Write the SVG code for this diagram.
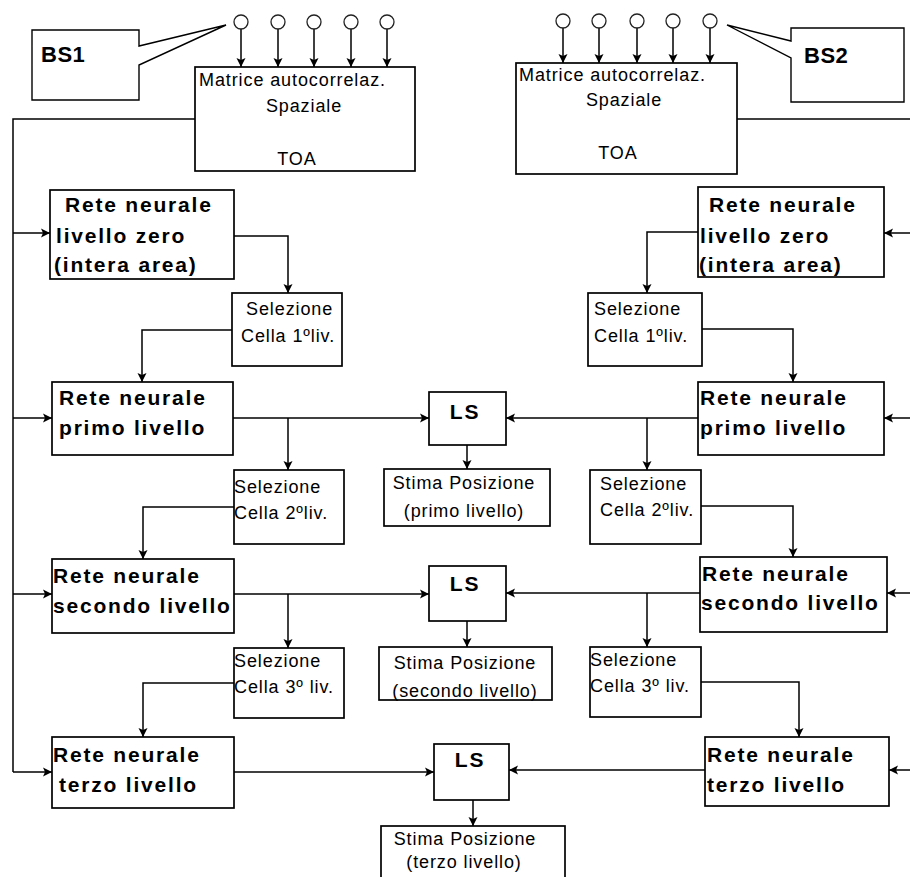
<svg xmlns="http://www.w3.org/2000/svg" width="910" height="877" viewBox="0 0 910 877">
  <style>
    .box { fill: #fff; stroke: #000; stroke-width: 1.7; }
    .wire { fill: none; stroke: #000; stroke-width: 1.5; }
    .ant { fill: #fff; stroke: #222; stroke-width: 1.3; }
    .t { font-family: "Liberation Sans", Arial, sans-serif; font-size: 18px; letter-spacing: 0.9px; fill: #000; }
    .b { font-family: "Liberation Sans", Arial, sans-serif; font-size: 21px; font-weight: bold; letter-spacing: 1.8px; fill: #000; }
    .bs { font-family: "Liberation Sans", Arial, sans-serif; font-size: 22px; font-weight: bold; letter-spacing: 0.5px; fill: #000; }
    .c { text-anchor: middle; }
  </style>
  <defs>
    <marker id="arr" markerUnits="userSpaceOnUse" markerWidth="10" markerHeight="10" refX="9" refY="5" orient="auto">
      <path d="M0,0.5 L9,5 L0,9.5 L2,5 Z" fill="#000"/>
    </marker>
  </defs>
  <rect width="910" height="877" fill="#fff"/>

  <!-- connectors -->
  <g id="connectors">
    <!-- antenna feeds -->
    <g class="wire" marker-end="url(#arr)">
      <path d="M241,29 V67"/><path d="M278,29 V67"/><path d="M314,29 V67"/><path d="M351,29 V67"/><path d="M387,29 V67"/>
      <path d="M563,28 V63"/><path d="M599,28 V63"/><path d="M637,28 V63"/><path d="M673,28 V63"/><path d="M710,28 V63"/>
    </g>
    <!-- left bus -->
    <path class="wire" d="M195,119 H13 V772"/>
    <g class="wire" marker-end="url(#arr)">
      <path d="M13,233 H50"/>
      <path d="M13,418 H52"/>
      <path d="M13,594 H52"/>
      <path d="M13,772 H52"/>
      <path d="M234,236 H288 V293"/>
      <path d="M232,330 H142 V382"/>
      <path d="M233,418 H429"/>
      <path d="M288,418 V470"/>
      <path d="M234,507 H143 V559"/>
      <path d="M234,594 H429"/>
      <path d="M288,594 V648"/>
      <path d="M234,683 H143 V737"/>
      <path d="M234,772 H434"/>
      <path d="M467,445 V469"/>
      <path d="M467,621 V647"/>
      <path d="M473,800 V826"/>
    </g>
    <!-- right bus -->
    <path class="wire" d="M737,119 H912"/>
    <g class="wire" marker-end="url(#arr)">
      <path d="M912,233 H884"/>
      <path d="M912,418 H884"/>
      <path d="M912,593 H887"/>
      <path d="M912,770 H889"/>
      <path d="M698,232 H647 V293"/>
      <path d="M702,329 H793 V382"/>
      <path d="M698,418 H506"/>
      <path d="M647,418 V470"/>
      <path d="M701,506 H793 V557"/>
      <path d="M700,593 H506"/>
      <path d="M647,593 V647"/>
      <path d="M701,682 H799 V737"/>
      <path d="M705,770 H509"/>
    </g>
  </g>

  <!-- antennas -->
  <g id="antenne1">
    <circle class="ant" cx="241" cy="22" r="7"/><circle class="ant" cx="278" cy="22" r="7"/><circle class="ant" cx="314" cy="22" r="7"/><circle class="ant" cx="351" cy="22" r="7"/><circle class="ant" cx="387" cy="22" r="7"/>
  </g>
  <g id="antenne2">
    <circle class="ant" cx="563" cy="21" r="7"/><circle class="ant" cx="599" cy="21" r="7"/><circle class="ant" cx="637" cy="21" r="7"/><circle class="ant" cx="673" cy="21" r="7"/><circle class="ant" cx="710" cy="21" r="7"/>
  </g>

  <!-- base station callouts -->
  <g id="bs1">
    <path d="M226,25 L139,46 V30 H32 V100 H139 V65 Z" fill="#fff" stroke="#000" stroke-width="1.4"/>
    <text class="bs" x="41" y="62">BS1</text>
  </g>
  <g id="bs2">
    <path d="M727,25 L791,41 V28 H904 V102 H791 V58 Z" fill="#fff" stroke="#000" stroke-width="1.4"/>
    <text class="bs" x="804" y="63">BS2</text>
  </g>

  <!-- spatial autocorrelation blocks -->
  <g id="matrice1">
    <rect class="box" x="195" y="67" width="220" height="104"/>
    <text class="t" x="199" y="86">Matrice autocorrelaz.</text>
    <text class="t c" x="304" y="112">Spaziale</text>
    <text class="t c" x="297" y="165">TOA</text>
  </g>
  <g id="matrice2">
    <rect class="box" x="516" y="63" width="221" height="111"/>
    <text class="t" x="519" y="81">Matrice autocorrelaz.</text>
    <text class="t c" x="624" y="106">Spaziale</text>
    <text class="t c" x="618" y="159">TOA</text>
  </g>

  <!-- left chain -->
  <g id="rete0-sx">
    <rect class="box" x="50" y="190" width="184" height="89"/>
    <text class="b" x="65" y="212">Rete neurale</text>
    <text class="b" x="56" y="243">livello zero</text>
    <text class="b" x="54" y="272">(intera area)</text>
  </g>
  <g id="sel1-sx">
    <rect class="box" x="232" y="293" width="110" height="73"/>
    <text class="t" x="246" y="315">Selezione</text>
    <text class="t" x="241" y="342">Cella 1ºliv.</text>
  </g>
  <g id="rete1-sx">
    <rect class="box" x="52" y="382" width="181" height="73"/>
    <text class="b" x="59" y="405">Rete neurale</text>
    <text class="b" x="59" y="435">primo livello</text>
  </g>
  <g id="sel2-sx">
    <rect class="box" x="234" y="470" width="110" height="74"/>
    <text class="t" x="234" y="493">Selezione</text>
    <text class="t" x="234" y="519">Cella 2ºliv.</text>
  </g>
  <g id="rete2-sx">
    <rect class="box" x="52" y="559" width="182" height="74"/>
    <text class="b" x="53" y="583">Rete neurale</text>
    <text class="b" x="53" y="613">secondo livello</text>
  </g>
  <g id="sel3-sx">
    <rect class="box" x="234" y="648" width="110" height="70"/>
    <text class="t" x="234" y="667">Selezione</text>
    <text class="t" x="234" y="693">Cella 3º liv.</text>
  </g>
  <g id="rete3-sx">
    <rect class="box" x="52" y="737" width="182" height="71"/>
    <text class="b" x="53" y="762">Rete neurale</text>
    <text class="b" x="59" y="792">terzo livello</text>
  </g>

  <!-- right chain -->
  <g id="rete0-dx">
    <rect class="box" x="698" y="187" width="186" height="90"/>
    <text class="b" x="709" y="212">Rete neurale</text>
    <text class="b" x="700" y="243">livello zero</text>
    <text class="b" x="699" y="272">(intera area)</text>
  </g>
  <g id="sel1-dx">
    <rect class="box" x="588" y="293" width="114" height="73"/>
    <text class="t" x="594" y="315">Selezione</text>
    <text class="t" x="594" y="342">Cella 1ºliv.</text>
  </g>
  <g id="rete1-dx">
    <rect class="box" x="698" y="382" width="186" height="73"/>
    <text class="b" x="700" y="405">Rete neurale</text>
    <text class="b" x="700" y="435">primo livello</text>
  </g>
  <g id="sel2-dx">
    <rect class="box" x="590" y="470" width="111" height="74"/>
    <text class="t" x="600" y="490">Selezione</text>
    <text class="t" x="600" y="516">Cella 2ºliv.</text>
  </g>
  <g id="rete2-dx">
    <rect class="box" x="700" y="557" width="187" height="75"/>
    <text class="b" x="702" y="581">Rete neurale</text>
    <text class="b" x="701" y="610">secondo livello</text>
  </g>
  <g id="sel3-dx">
    <rect class="box" x="590" y="647" width="111" height="70"/>
    <text class="t" x="590" y="666">Selezione</text>
    <text class="t" x="590" y="692">Cella 3º liv.</text>
  </g>
  <g id="rete3-dx">
    <rect class="box" x="705" y="737" width="184" height="69"/>
    <text class="b" x="707" y="762">Rete neurale</text>
    <text class="b" x="707" y="792">terzo livello</text>
  </g>

  <!-- least-squares combiners -->
  <g id="ls1">
    <rect class="box" x="429" y="392" width="77" height="53"/>
    <text class="b c" x="465" y="419">LS</text>
  </g>
  <g id="stima1">
    <rect class="box" x="384" y="469" width="166" height="57"/>
    <text class="t c" x="464" y="489">Stima Posizione</text>
    <text class="t c" x="464" y="517">(primo livello)</text>
  </g>
  <g id="ls2">
    <rect class="box" x="429" y="566" width="77" height="55"/>
    <text class="b c" x="465" y="591">LS</text>
  </g>
  <g id="stima2">
    <rect class="box" x="379" y="647" width="173" height="53"/>
    <text class="t c" x="465" y="669">Stima Posizione</text>
    <text class="t c" x="465" y="697">(secondo livello)</text>
  </g>
  <g id="ls3">
    <rect class="box" x="434" y="744" width="75" height="56"/>
    <text class="b c" x="470" y="767">LS</text>
  </g>
  <g id="stima3">
    <rect class="box" x="381" y="826" width="184" height="60"/>
    <text class="t c" x="465" y="845">Stima Posizione</text>
    <text class="t c" x="464" y="868">(terzo livello)</text>
  </g>
</svg>
